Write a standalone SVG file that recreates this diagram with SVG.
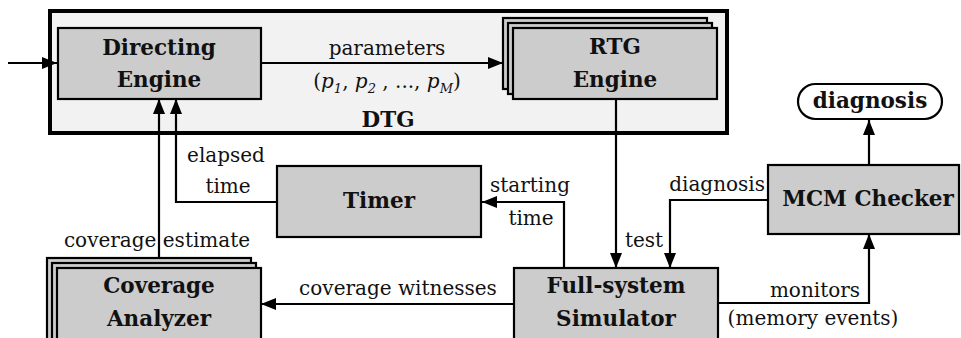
<svg xmlns="http://www.w3.org/2000/svg" width="961" height="338" viewBox="0 0 961 338">
<style>
.box{fill:#cccccc;stroke:#000;stroke-width:2.2}
.dtg{fill:#f2f2f2;stroke:#000;stroke-width:4}
.pill{fill:#fff;stroke:#000;stroke-width:2.2}
.b{font-family:"DejaVu Serif",serif;font-weight:bold;font-size:21.5px;fill:#111;text-anchor:middle}
.t{font-family:"DejaVu Serif",serif;font-size:20px;fill:#111;text-anchor:middle}
.ln{fill:none;stroke:#000;stroke-width:2.2}
</style>
<defs>
<marker id="ah" markerUnits="userSpaceOnUse" markerWidth="15" markerHeight="12" refX="15" refY="6" orient="auto">
<path d="M0,0 L15,6 L0,12 z" fill="#000"/>
</marker>
</defs>
<rect x="0" y="0" width="961" height="338" fill="#fff"/>
<g id="dtg">
<rect class="dtg" x="50" y="11" width="677" height="122"/>
<text class="b" x="388" y="127">DTG</text>
</g>
<g id="directing-engine">
<rect class="box" x="58" y="28" width="203" height="71"/>
<text class="b" x="159" y="55">Directing</text>
<text class="b" x="159" y="87">Engine</text>
</g>
<g id="rtg-engine">
<rect class="box" x="503" y="18" width="204" height="71"/>
<rect class="box" x="508" y="23" width="204" height="71"/>
<rect class="box" x="513" y="28" width="204" height="71"/>
<text class="b" x="615" y="54">RTG</text>
<text class="b" x="615" y="87">Engine</text>
</g>
<g id="timer">
<rect class="box" x="277" y="166" width="204" height="71"/>
<text class="b" x="379" y="208">Timer</text>
</g>
<g id="mcm-checker">
<rect class="box" x="768" y="165" width="191" height="69"/>
<text class="b" x="868" y="206">MCM Checker</text>
</g>
<g id="diagnosis-out">
<rect class="pill" x="798" y="84" width="144" height="35" rx="17.5"/>
<text class="b" x="870" y="108">diagnosis</text>
</g>
<g id="coverage-analyzer">
<rect class="box" x="47" y="258" width="204" height="100"/>
<rect class="box" x="52" y="263" width="204" height="100"/>
<rect class="box" x="57" y="268" width="204" height="100"/>
<text class="b" x="159" y="293">Coverage</text>
<text class="b" x="159" y="326">Analyzer</text>
</g>
<g id="full-system-simulator">
<rect class="box" x="514" y="268" width="204" height="100"/>
<text class="b" x="616" y="293">Full-system</text>
<text class="b" x="616" y="326">Simulator</text>
</g>
<g id="connectors">
<path class="ln" d="M8,63 H57" marker-end="url(#ah)"/>
<path class="ln" d="M262,63 H503" marker-end="url(#ah)"/>
<path class="ln" d="M616,99 V268" marker-end="url(#ah)"/>
<path class="ln" d="M768,200 H670 V268" marker-end="url(#ah)"/>
<path class="ln" d="M564,268 V202 H482" marker-end="url(#ah)"/>
<path class="ln" d="M277,202 H176 V99" marker-end="url(#ah)"/>
<path class="ln" d="M159,258 V99" marker-end="url(#ah)"/>
<path class="ln" d="M514,304 H261" marker-end="url(#ah)"/>
<path class="ln" d="M718,303 H869 V234" marker-end="url(#ah)"/>
<path class="ln" d="M869,165 V120" marker-end="url(#ah)"/>
<text class="t" x="387" y="55">parameters</text>
<text class="t" x="387" y="88">(<tspan font-style="italic">p</tspan><tspan font-style="italic" font-size="13" dy="5">1</tspan><tspan dy="-5">, </tspan><tspan font-style="italic">p</tspan><tspan font-style="italic" font-size="13" dy="5">2</tspan><tspan dy="-5"> , ..., </tspan><tspan font-style="italic">p</tspan><tspan font-style="italic" font-size="13" dy="5">M</tspan><tspan dy="-5">)</tspan></text>
<text class="t" x="226" y="162">elapsed</text>
<text class="t" x="228" y="193">time</text>
<text class="t" x="157" y="247">coverage estimate</text>
<text class="t" x="530" y="192">starting</text>
<text class="t" x="531" y="225">time</text>
<text class="t" x="644" y="247">test</text>
<text class="t" x="765" y="191" style="text-anchor:end">diagnosis</text>
<text class="t" x="398" y="295">coverage witnesses</text>
<text class="t" x="815" y="297">monitors</text>
<text class="t" x="813" y="325">(memory events)</text>
</g>
</svg>
